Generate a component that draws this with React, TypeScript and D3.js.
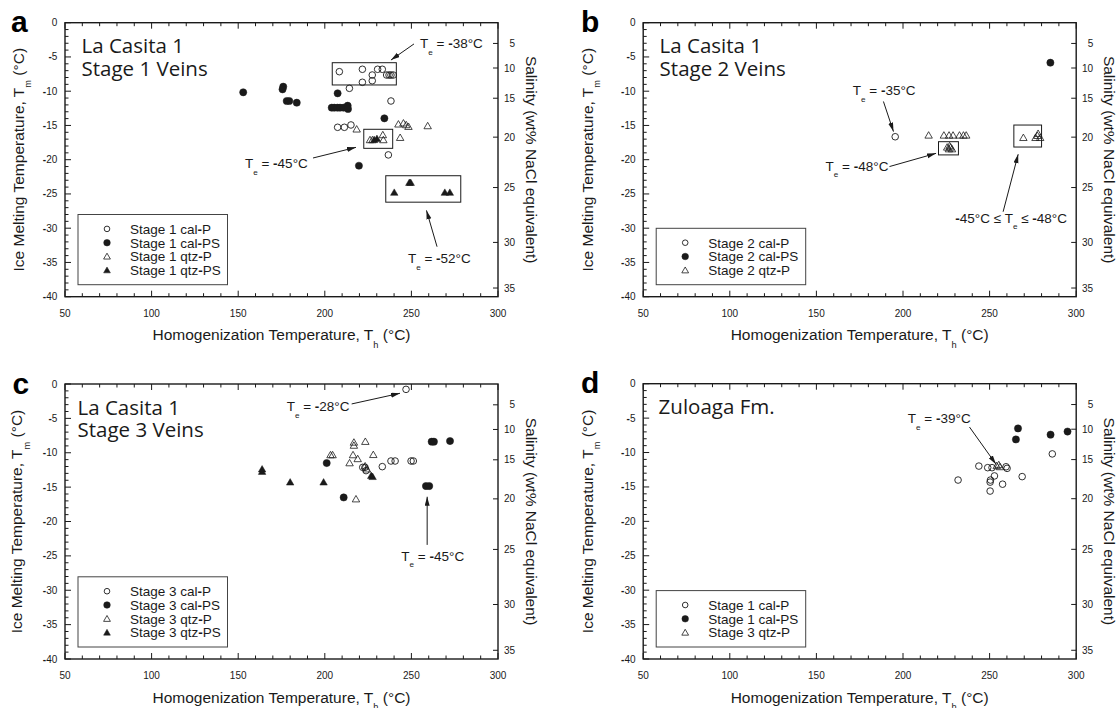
import { useRef, useEffect } from 'react';
import * as d3 from 'd3';

type Pt = [number, number];

const xTicks = [50, 100, 150, 200, 250, 300];
const yTicks = [0, -5, -10, -15, -20, -25, -30, -35, -40];
const salinityTicks = [5, 10, 15, 20, 25, 30, 35];

// panel a - La Casita 1, stage 1 veins  [Th, Tm]
const aCalP: Pt[] = [
  [208.4, -7.15], [221.7, -6.8], [227.4, -7.64], [230.5, -6.8], [233.2, -6.8],
  [235.7, -7.64], [237.1, -7.64], [238.2, -7.64], [239.5, -7.64], [221.7, -8.7],
  [227.4, -8.47], [214.2, -9.58], [238.2, -11.43], [207.4, -15.27], [211.3, -15.27],
  [215.1, -14.93], [236.7, -19.3],
];
const aCalPS: Pt[] = [
  [152.9, -10.16], [176.0, -9.34], [175.6, -9.73], [178.0, -11.43], [179.5, -11.43],
  [183.8, -11.68], [207.4, -10.31], [204.0, -12.41], [205.5, -12.41], [207.3, -12.41],
  [208.8, -12.41], [210.8, -12.41], [213.2, -12.12], [213.4, -12.6], [234.4, -13.96],
  [219.7, -20.88],
];
const aQtzP: Pt[] = [
  [218.4, -15.56], [242.5, -14.83], [245.4, -14.68], [247.0, -14.93], [248.3, -15.18],
  [259.4, -15.08], [243.5, -16.79], [226.1, -17.12], [227.5, -17.12], [233.5, -16.39],
  [233.8, -17.12],
];
const aQtzPS: Pt[] = [
  [228.5, -17.1], [230.1, -16.95], [240.1, -24.8], [248.8, -23.36], [249.6, -23.36],
  [269.3, -24.8], [272.2, -24.8],
];

// panel b - stage 2 veins
const bCalP: Pt[] = [[195.5, -16.65]];
const bCalPS: Pt[] = [[285.1, -5.84]];
const bQtzP: Pt[] = [
  [214.8, -16.45], [223.6, -16.45], [226.6, -16.45], [228.9, -16.45], [232.6, -16.45],
  [234.9, -16.45], [236.5, -16.45],
  [225.5, -18.2], [226.5, -18.45], [227.5, -18.2], [228.3, -18.45], [226.9, -18.0],
  [269.5, -16.8], [276.5, -16.8], [278.0, -16.2], [279.2, -16.8], [277.6, -16.5],
];

// panel c - stage 3 veins
const cCalP: Pt[] = [
  [246.9, -0.78], [221.9, -12.12], [223.2, -12.12], [223.8, -12.6], [233.2, -12.02],
  [238.2, -11.2], [240.6, -11.2], [249.8, -11.2], [251.1, -11.2],
];
const cCalPS: Pt[] = [
  [261.7, -8.39], [263.0, -8.39], [272.3, -8.3], [201.1, -11.5], [258.4, -14.84],
  [260.3, -14.84], [210.9, -16.5],
];
const cQtzP: Pt[] = [
  [216.8, -8.5], [216.8, -8.95], [223.4, -8.39], [203.3, -10.33], [204.5, -10.33],
  [216.3, -10.33], [219.0, -10.9], [228.0, -10.3], [214.3, -11.5], [223.3, -11.95],
  [224.3, -12.4], [218.0, -16.75],
];
const cQtzPS: Pt[] = [
  [163.8, -12.4], [163.8, -12.75], [180.0, -14.3], [199.3, -14.3], [226.8, -13.35],
  [227.6, -13.5],
];

// panel d - Zuloaga Fm.
const dCalP: Pt[] = [
  [231.8, -14.0], [243.8, -11.97], [248.9, -12.2], [251.4, -12.2], [259.5, -12.07],
  [260.1, -12.3], [250.5, -14.0], [250.3, -14.3], [252.8, -13.4], [257.5, -14.6],
  [250.3, -15.6], [268.8, -13.5], [286.2, -10.2],
];
const dCalPS: Pt[] = [[266.4, -6.5], [265.2, -8.1], [285.2, -7.4], [295.0, -6.95]];
const dQtzP: Pt[] = [[254.1, -11.95], [255.3, -11.8], [256.0, -12.1]];

// boxes drawn round groups: [Th1, Th2, Tm1, Tm2]
const aBoxes = [[204.3, 241.3, -5.84, -9.09], [222.5, 239.2, -15.56, -18.34], [235.2, 278.5, -22.34, -26.2]];
const bBoxes = [[220.5, 232, -17.37, -19.3], [264.0, 280, -14.94, -18.15]];

// eutectic notes: text anchor, arrow start, arrow end (data units)
const aNotes = [
  { text: 'T_{e} = *-*38°C', at: [255, -3.7], from: [251.5, -3.1], to: [238.2, -5.45] },
  { text: 'T_{e} = *-*45°C', at: [153.9, -21.2], from: [193.2, -19.75], to: [218, -18.2] },
  { text: 'T_{e} = *-*52°C', at: [248, -35.1], from: [264.8, -32.7], to: [258.7, -27.4] },
];
const bNotes = [
  { text: 'T_{e} = *-*35°C', at: [171, -10.55], from: [188.7, -11.5], to: [194.5, -15.9] },
  { text: 'T_{e} = *-*48°C', at: [155.3, -21.6], from: [192.2, -21.0], to: [219.1, -19.07] },
  { text: '*-*45°C ≤ T_{e} ≤ *-*48°C', at: [230.2, -29.2], from: [257.8, -27.6], to: [266.5, -19.2] },
];
const cNotes = [
  { text: 'T_{e} = *-*28°C', at: [178, -3.93], from: [215.5, -2.9], to: [243.4, -1.35] },
  { text: 'T_{e} = *-*45°C', at: [244.2, -25.7], from: [259.1, -23.4], to: [259.1, -16.4] },
];
const dNotes = [
  { text: 'T_{e} = *-*39°C', at: [202.8, -5.7], from: [238.4, -6.3], to: [253.7, -11.7] },
];

const FW = 433;
const SANS = '"Liberation Sans", Arial, sans-serif';
const INK = '#1a1a1a';

const panels = [
  {
    letter: 'a', left: 65, top: 22.7, h: 274, letterX: 11, yTitleX: 18, titleDx: 16.5, title: ['La Casita 1', 'Stage 1 Veins'],
    series: [
      { label: 'Stage 1 cal*-*P', kind: 'co', data: aCalP },
      { label: 'Stage 1 cal*-*PS', kind: 'cf', data: aCalPS },
      { label: 'Stage 1 qtz*-*P', kind: 'to', data: aQtzP },
      { label: 'Stage 1 qtz*-*PS', kind: 'tf', data: aQtzPS },
    ],
    boxes: aBoxes, notes: aNotes,
  },
  {
    letter: 'b', left: 643.2, top: 22.7, h: 274, letterX: 581, yTitleX: 587, titleDx: 16.4, title: ['La Casita 1', 'Stage 2 Veins'],
    series: [
      { label: 'Stage 2 cal*-*P', kind: 'co', data: bCalP },
      { label: 'Stage 2 cal*-*PS', kind: 'cf', data: bCalPS },
      { label: 'Stage 2 qtz*-*P', kind: 'to', data: bQtzP },
    ],
    boxes: bBoxes, notes: bNotes,
  },
  {
    letter: 'c', left: 65, top: 384, h: 275, letterX: 12.5, yTitleX: 16.5, titleDx: 12.5, title: ['La Casita 1', 'Stage 3 Veins'],
    series: [
      { label: 'Stage 3 cal*-*P', kind: 'co', data: cCalP },
      { label: 'Stage 3 cal*-*PS', kind: 'cf', data: cCalPS },
      { label: 'Stage 3 qtz*-*P', kind: 'to', data: cQtzP },
      { label: 'Stage 3 qtz*-*PS', kind: 'tf', data: cQtzPS },
    ],
    boxes: [], notes: cNotes,
  },
  {
    letter: 'd', left: 643.2, top: 383.7, h: 275.3, letterX: 581, yTitleX: 587, titleDx: 15.4, title: ['Zuloaga Fm.'],
    series: [
      { label: 'Stage 1 cal*-*P', kind: 'co', data: dCalP },
      { label: 'Stage 1 cal*-*PS', kind: 'cf', data: dCalPS },
      { label: 'Stage 3 qtz*-*P', kind: 'to', data: dQtzP },
    ],
    boxes: [], notes: dNotes,
  },
];

// Bodnar (1993): wt% NaCl from freezing point depression, inverted for the right axis
function tmForSalinity(s: number) {
  let lo = 0, hi = 60;
  for (let i = 0; i < 60; i++) {
    const m = (lo + hi) / 2;
    const f = 1.78 * m - 0.0442 * m * m + 0.000557 * m * m * m;
    if (f < s) lo = m; else hi = m;
  }
  return -(lo + hi) / 2;
}

// "_{x}" -> subscript, "*x*" -> bold
function rich(sel: any, str: string, fs: number) {
  const parts = str.split(/(_\{[^}]*\}|\*[^*]*\*)/).filter(Boolean);
  let down = false;
  parts.forEach((p) => {
    const ts = sel.append('tspan');
    if (p.startsWith('_{')) {
      ts.text(p.slice(2, -1)).attr('font-size', fs * 0.6).attr('dy', fs * 0.5);
      down = true;
      return;
    }
    if (p.startsWith('*')) ts.text(p.slice(1, -1)).attr('font-weight', 'bold');
    else ts.text(p);
    if (down) { ts.attr('dy', -fs * 0.5); down = false; }
  });
}

function marker(g: any, kind: string, cx: number, cy: number, small = false) {
  if (kind === 'co' || kind === 'cf') {
    g.append('circle')
      .attr('cx', cx).attr('cy', cy)
      .attr('r', kind === 'co' ? (small ? 2.8 : 3.3) : (small ? 3.3 : 3.6))
      .attr('fill', kind === 'cf' ? INK : 'none')
      .attr('stroke', INK).attr('stroke-width', kind === 'co' ? 0.9 : 0.5);
  } else {
    g.append('path')
      .attr('d', d3.symbol(d3.symbolTriangle, small ? 20 : 24)())
      .attr('transform', `translate(${cx},${cy + 0.6})`)
      .attr('fill', kind === 'tf' ? INK : 'none')
      .attr('stroke', INK).attr('stroke-width', kind === 'to' ? 0.8 : 0.5)
      .attr('stroke-linejoin', 'miter');
  }
}

const App = () => {
  const svgRef = useRef<SVGSVGElement>(null);

  useEffect(() => {
    const svg = d3.select(svgRef.current);
    svg.selectAll('*').remove();

    svg.append('defs').append('marker')
      .attr('id', 'arrow')
      .attr('markerUnits', 'userSpaceOnUse')
      .attr('markerWidth', 10).attr('markerHeight', 6)
      .attr('refX', 9).attr('refY', 2.5)
      .attr('orient', 'auto')
      .append('path').attr('d', 'M0,0 L9,2.5 L0,5 z').attr('fill', INK);

    panels.forEach((p) => {
      const g = svg.append('g');
      const right = p.left + FW;
      const bottom = p.top + p.h;
      const midY = (p.top + bottom) / 2;
      const x = d3.scaleLinear().domain([50, 300]).range([p.left, right]);
      const y = d3.scaleLinear().domain([0, -40]).range([p.top, bottom]);

      // ticks (inward)
      d3.range(50, 301, 10).forEach((v) => {
        const len = v % 50 === 0 ? 6 : 3.5;
        g.append('line').attr('x1', x(v)).attr('x2', x(v)).attr('y1', bottom).attr('y2', bottom - len)
          .attr('stroke', INK).attr('stroke-width', 1);
        g.append('line').attr('x1', x(v)).attr('x2', x(v)).attr('y1', p.top).attr('y2', p.top + len)
          .attr('stroke', INK).attr('stroke-width', 1);
      });
      d3.range(0, -41, -1).forEach((v) => {
        const len = v % 5 === 0 ? 6 : 3.5;
        g.append('line').attr('x1', p.left).attr('x2', p.left + len).attr('y1', y(v)).attr('y2', y(v))
          .attr('stroke', INK).attr('stroke-width', 1);
      });
      salinityTicks.forEach((s) => {
        const yy = y(tmForSalinity(s));
        g.append('line').attr('x1', right).attr('x2', right - 5).attr('y1', yy).attr('y2', yy)
          .attr('stroke', INK).attr('stroke-width', 1);
        g.append('text').attr('x', right + 17).attr('y', yy).attr('dy', '0.35em')
          .attr('text-anchor', 'end').attr('font-family', SANS).attr('font-size', 10).attr('fill', INK)
          .text(s);
      });

      g.append('rect').attr('x', p.left).attr('y', p.top).attr('width', FW).attr('height', p.h)
        .attr('fill', 'none').attr('stroke', INK).attr('stroke-width', 1.4);

      xTicks.forEach((v) => {
        g.append('text').attr('x', x(v)).attr('y', bottom + 20).attr('text-anchor', 'middle')
          .attr('font-family', SANS).attr('font-size', 10).attr('fill', INK).text(v);
      });
      yTicks.forEach((v) => {
        const t = g.append('text').attr('x', p.left - 7.7).attr('y', y(v)).attr('dy', '0.35em')
          .attr('text-anchor', 'end').attr('font-family', SANS).attr('font-size', 10).attr('fill', INK);
        rich(t, v < 0 ? `*-*${-v}` : `${v}`, 10);
      });

      // axis titles
      const xt = g.append('text').attr('x', (p.left + right) / 2).attr('y', bottom + 43.5)
        .attr('text-anchor', 'middle').attr('font-family', SANS).attr('font-size', 15.5).attr('fill', INK);
      rich(xt, 'Homogenization Temperature, T_{h} (°C)', 15.5);
      const yt = g.append('text')
        .attr('transform', `translate(${p.yTitleX + 5.5},${midY}) rotate(-90)`)
        .attr('text-anchor', 'middle').attr('font-family', SANS).attr('font-size', 15.5).attr('fill', INK);
      rich(yt, 'Ice Melting Temperature, T_{m} (°C)', 15.5);
      g.append('text')
        .attr('transform', `translate(${right + 28},${midY}) rotate(90)`)
        .attr('text-anchor', 'middle').attr('font-family', SANS).attr('font-size', 15.5).attr('fill', INK)
        .text('Salinity (wt% NaCl equivalent)');

      g.append('text').attr('x', p.letterX).attr('y', p.top + 9.5).attr('font-family', SANS)
        .attr('font-size', 30).attr('font-weight', 'bold').attr('fill', '#000').text(p.letter);

      p.title.forEach((line, i) => {
        g.append('text').attr('x', p.left + p.titleDx).attr('y', p.top + 30.6 + i * 22.7)
          .attr('font-family', '"Open Sans", "Noto Sans", sans-serif').attr('font-size', 20.5)
          .attr('fill', INK).text(line);
      });

      p.boxes.forEach((b) => {
        g.append('rect').attr('x', x(b[0])).attr('y', y(b[2]))
          .attr('width', x(b[1]) - x(b[0])).attr('height', y(b[3]) - y(b[2]))
          .attr('fill', 'none').attr('stroke', INK).attr('stroke-width', 1);
      });

      p.series.forEach((s) => {
        s.data.forEach((d) => marker(g, s.kind, x(d[0]), y(d[1])));
      });

      p.notes.forEach((n) => {
        g.append('line').attr('x1', x(n.from[0])).attr('y1', y(n.from[1]))
          .attr('x2', x(n.to[0])).attr('y2', y(n.to[1]))
          .attr('stroke', INK).attr('stroke-width', 1).attr('marker-end', 'url(#arrow)');
        const t = g.append('text').attr('x', x(n.at[0])).attr('y', y(n.at[1]))
          .attr('font-family', SANS).attr('font-size', 13.5).attr('fill', INK);
        rich(t, n.text, 13.5);
      });

      // legend
      const rows = p.series.length;
      const lh = rows * 13.8 + 15;
      const lx = p.left + 13;
      const ly = bottom - 12 - lh;
      g.append('rect').attr('x', lx).attr('y', ly).attr('width', 149.5).attr('height', lh)
        .attr('fill', 'white').attr('stroke', '#444').attr('stroke-width', 1);
      p.series.forEach((s, i) => {
        const cy = ly + 14.4 + i * 13.8;
        marker(g, s.kind, p.left + 42, cy, true);
        const t = g.append('text').attr('x', p.left + 65).attr('y', cy).attr('dy', '0.36em')
          .attr('font-family', SANS).attr('font-size', 13.5).attr('fill', INK);
        rich(t, s.label, 13.5);
      });
    });
  }, []);

  return (
    <svg ref={svgRef} width={1119} height={708} style={{ display: 'block', position: 'absolute', left: 0, top: 0, background: '#fff' }} />
  );
};

export default App;
